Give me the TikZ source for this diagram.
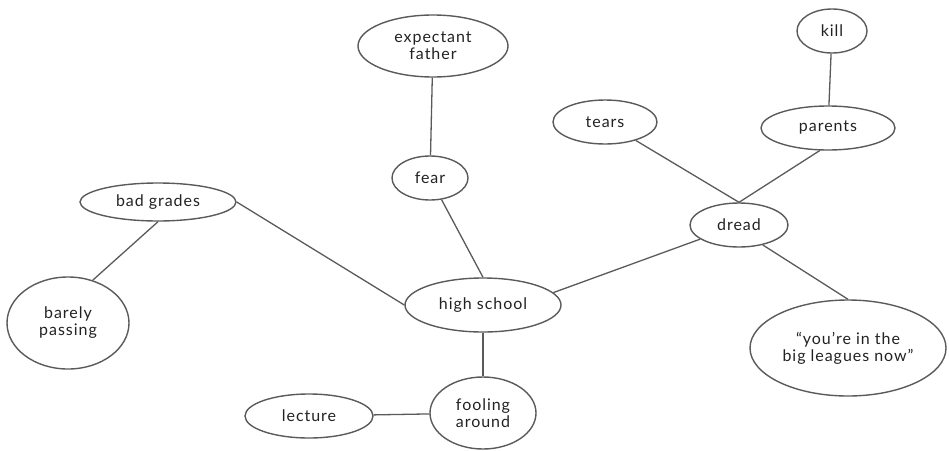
\documentclass[tikz,border=0pt]{standalone}
\usepackage{fontspec}
\setmainfont{Lato}[LetterSpace=6]
\usetikzlibrary{shapes.geometric}
\definecolor{sketch}{HTML}{5A5A5A}
\definecolor{ink}{HTML}{222222}
\tikzset{
  bubble/.style={ellipse, draw=sketch, line width=1.4pt, inner sep=0pt,
    text=ink, font=\fontsize{16}{17}\selectfont, align=center},
  link/.style={draw=sketch, line width=1.3pt}
}
\begin{document}
\begin{tikzpicture}[x=1pt,y=-1pt]
\useasboundingbox (0,0) rectangle (949,450);
\node[bubble, minimum width=150pt, minimum height=62pt] (father) at (433,46) {expectant\\father};
\node[bubble, minimum width=76pt, minimum height=44pt] (fear) at (430,178) {fear};
\node[bubble, minimum width=104pt, minimum height=44pt] (tears) at (605,122) {tears};
\node[bubble, minimum width=70pt, minimum height=44pt] (kill) at (832,31) {kill};
\node[bubble, minimum width=134pt, minimum height=44pt] (parents) at (828,128) {parents};
\node[bubble, minimum width=98pt, minimum height=44pt] (dread) at (739,225) {dread};
\node[bubble, minimum width=196pt, minimum height=96pt] (leagues) at (848,348) {\textquotedblleft you're in the\\big leagues now\textquotedblright};
\node[bubble, minimum width=156pt, minimum height=54pt] (hs) at (483,305) {high school};
\node[bubble, minimum width=106pt, minimum height=72pt] (fool) at (483,413) {fooling\\around};
\node[bubble, minimum width=128pt, minimum height=44pt] (lecture) at (309,416) {lecture};
\node[bubble, minimum width=156pt, minimum height=38pt] (bad) at (158,202) {bad grades};
\node[bubble, minimum width=122pt, minimum height=92pt] (barely) at (68,323) {barely\\passing};
\draw[link] (father) -- (fear);
\draw[link] (fear) -- (hs.north);
\draw[link] (bad.east) -- (hs.west);
\draw[link] (bad.south) -- (barely.60);
\draw[link] (hs.10) -- (dread.200);
\draw[link] (hs) -- (fool);
\draw[link] (fool) -- (lecture);
\draw[link] (dread.north) -- (tears);
\draw[link] (dread.north) -- (parents.250);
\draw[link] (parents) -- (kill);
\draw[link] (dread.320) -- (leagues.north);
\end{tikzpicture}
\end{document}
